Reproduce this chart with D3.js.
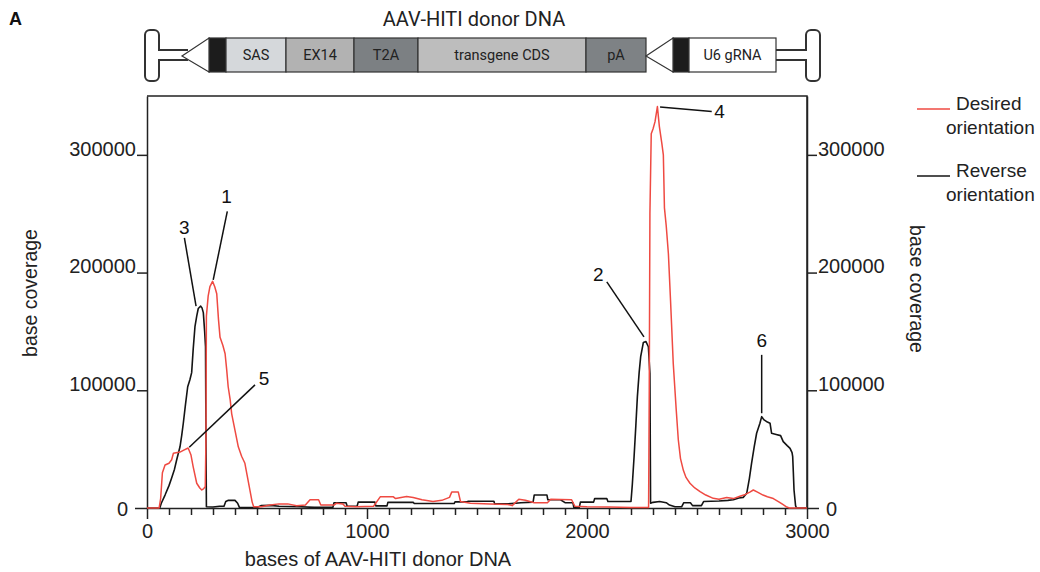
<!DOCTYPE html>
<html><head><meta charset="utf-8">
<script src="https://cdn.jsdelivr.net/npm/d3@7"></script>
<style>body{margin:0;background:#fff}svg{display:block}</style>
</head><body><svg id="c" width="1040" height="572"></svg>
<script>
// ---------------- DATA ----------------
const seriesNames = ["Desired orientation", "Reverse orientation"];
const xTickLabels = [0, 1000, 2000, 3000];
const yTickLabels = [0, 100000, 200000, 300000];

// Desired orientation (red): base position / coverage
const desiredPos = [0,55,62,70,82,100,112,120,150,165,187,200,210,226,240,249,258,265,268,270,278,286,298,308,317,325,332,345,355,362,369,378,385,400,415,430,445,455,468,478,485,520,560,600,640,680,720,741,780,790,850,860,890,900,950,1030,1060,1120,1130,1180,1210,1250,1300,1340,1375,1385,1415,1425,1470,1560,1640,1660,1690,1720,1760,1820,1835,1930,1945,2000,2100,2200,2280,2283,2286,2292,2300,2309,2320,2329,2340,2347,2352,2360,2370,2380,2392,2405,2415,2425,2438,2450,2468,2490,2514,2540,2574,2600,2635,2665,2695,2720,2740,2756,2775,2800,2820,2847,2870,2890,2908,2920,3000];
const desiredCov = [0,0,8000,30000,36500,38000,41000,46500,47500,49000,51000,45000,35000,21000,17000,15300,16500,18000,60000,163000,180000,188000,192500,188000,182000,160000,145000,138000,131000,118000,103000,92000,80000,66000,52000,44000,38000,28000,15000,5000,1000,1000,2500,3500,3500,2000,2500,7000,7000,2500,2500,4000,3500,1500,1000,1500,9500,9500,8000,9800,9000,7000,5500,6500,9000,13500,13500,5500,4000,3500,3000,2000,7500,6500,4500,4500,7500,7000,1500,1000,800,500,400,100000,250000,318000,322000,328000,341000,324000,310000,300000,255000,240000,216000,175000,123000,85000,58000,42000,32000,26000,21000,17000,14000,11000,8200,7500,9000,8000,10000,11500,13500,15300,13500,11000,9500,8000,5500,3000,800,0,0];

// Reverse orientation (black)
const reversePos = [0,58,65,82,100,112,125,135,150,158,165,175,185,195,203,210,218,226,233,244,250,256,262,266,268,270,300,330,350,358,370,400,412,420,450,500,518,560,600,700,760,845,850,905,910,955,960,1036,1040,1091,1095,1210,1215,1396,1400,1455,1460,1577,1580,1640,1700,1755,1760,1818,1822,1880,1900,1936,1940,1965,1970,2030,2035,2090,2095,2200,2206,2214,2222,2229,2237,2244,2256,2268,2279,2286,2289,2300,2330,2360,2375,2400,2430,2440,2470,2480,2520,2530,2600,2640,2665,2690,2710,2726,2738,2748,2760,2771,2786,2794,2800,2805,2820,2832,2839,2860,2880,2892,2910,2923,2932,2935,2938,2941,2948,2952,3000];
const reverseCov = [0,0,4000,11000,19000,25500,33000,41000,52000,62000,72000,88000,103000,109000,115000,135000,154000,163000,169500,171500,170000,166000,150000,137000,60000,1000,800,1500,1500,5500,6500,6500,4000,500,300,500,2000,2200,1500,1000,500,500,4500,4500,1500,1500,5000,5000,1800,1800,4800,4800,3800,3800,5200,5200,5700,5700,3500,3500,4500,5000,11000,11000,7000,7000,4500,4500,500,500,5000,5000,8000,8000,5500,5500,20000,43600,70000,94600,115000,128600,140500,141400,137000,114500,4000,4800,5500,4500,2500,1000,1000,4500,4500,2000,2000,5500,6000,6500,7000,8500,9000,12500,25000,38000,52000,63500,72000,77600,76000,74800,73000,72000,63500,62500,61500,56400,53000,50700,47000,43600,30000,15300,2000,0,0];

// Peak annotations: label, anchor (pos, cov), leader end (pos, cov), label centre (pos, cov)
const peakLabels   = ["1","2","3","4","5","6"];
const peakAnchorX  = [301, 2259, 223, 2332, 192, 2794];
const peakAnchorY  = [193800, 145400, 171400, 340600, 51600, 80500];
const peakLeaderX  = [365, 2090, 170, 2567, 491, 2794];
const peakLeaderY  = [252000, 192100, 229500, 336900, 104600, 130100];
const peakTextX    = [362, 2051, 170, 2602, 532, 2794];
const peakTextY    = [264500, 198600, 238500, 336900, 110300, 142800];

// Donor construct diagram
const diagramTitle = "AAV-HITI donor DNA";
const segmentLabels = ["", "SAS", "EX14", "T2A", "transgene CDS", "pA", "", "", "U6 gRNA"];

// ---------------- LAYOUT / STYLE ----------------
const svg = d3.select("#c");
const FONT = "'Liberation Sans', Arial, sans-serif";
const RED = "#ef4a42", BLK = "#141414", AX = "#222";
const x = d3.scaleLinear().domain([0, 3000]).range([147, 807]);
const y = d3.scaleLinear().domain([0, 350000]).range([508, 96]);

svg.append("rect").attr("width",1040).attr("height",572).attr("fill","#fff");

// panel letter
svg.append("text").attr("x",9).attr("y",25).attr("font-family",FONT).attr("font-weight","bold")
  .attr("font-size",18).attr("fill","#111").text("A");

// ---- diagram ----
const dg = svg.append("g");
const segEdges = [209, 226, 286, 354, 418, 586, 646, 673, 689, 776];
const segFills = ["#1c1c1c","#d5d8db","#b2b2b2","#7c8083","#bdbdbd","#7e8285",null,"#1c1c1c","#ffffff"];
const barTop = 38, barBot = 72, barMid = 55;
dg.append("text").attr("x",474).attr("y",26).attr("text-anchor","middle")
  .attr("font-family","Roboto, sans-serif").attr("font-size",20).attr("fill","#222").text(diagramTitle);
// hairpins
const hp = (dir, xs) => {
  const [s, i, o] = xs; const r = 5;
  const p = d3.path();
  p.moveTo(s, barMid-5); p.lineTo(i, barMid-5); p.lineTo(i, 35);
  p.arcTo(i, 30, i - dir*r, 30, r); p.lineTo(o + dir*r, 30);
  p.arcTo(o, 30, o, 35, r); p.lineTo(o, 76);
  p.arcTo(o, 81, o + dir*r, 81, r); p.lineTo(i - dir*r, 81);
  p.arcTo(i, 81, i, 76, r); p.lineTo(i, barMid+5); p.lineTo(s, barMid+5);
  return p.toString();
};
dg.append("path").attr("d", hp(1, [188, 159, 145])).attr("fill","#fff").attr("stroke","#333").attr("stroke-width",2);
dg.append("path").attr("d", hp(-1, [770, 806, 820])).attr("fill","#fff").attr("stroke","#333").attr("stroke-width",2);
// segments
segFills.forEach((f, k) => {
  if (!f) return;
  dg.append("rect").attr("x", segEdges[k]).attr("y", barTop)
    .attr("width", segEdges[k+1]-segEdges[k]).attr("height", barBot-barTop)
    .attr("fill", f).attr("stroke","#333").attr("stroke-width",1.2);
});
// triangles (ITR arrows)
dg.append("path").attr("d", `M209,${barTop}L209,${barBot}L182,${barMid+1}Z`).attr("fill","#fff").attr("stroke","#333").attr("stroke-width",1.2);
dg.append("path").attr("d", `M673,${barTop}L673,${barBot}L646,${barMid+1}Z`).attr("fill","#fff").attr("stroke","#333").attr("stroke-width",1.2);
segmentLabels.forEach((t, k) => {
  if (!t) return;
  dg.append("text").attr("x",(segEdges[k]+segEdges[k+1])/2).attr("y",barMid+5)
    .attr("text-anchor","middle").attr("font-family","Roboto, sans-serif").attr("font-size",14.5)
    .attr("fill","#222").text(t);
});

// ---- plot frame ----
svg.append("path").attr("d",`M${x(0)},${y(350000)}H${x(3000)}V${y(0)}`)
  .attr("fill","none").attr("stroke",AX).attr("stroke-width",1.5);

// x axis minor ticks
const minor = d3.range(100, 3000, 100).filter(v => v % 1000 !== 0);
const gxm = svg.append("g").attr("transform",`translate(0,${y(0)})`)
  .call(d3.axisBottom(x).tickValues(minor).tickSize(7).tickFormat(""));
gxm.select(".domain").remove();
const gx = svg.append("g").attr("transform",`translate(0,${y(0)})`)
  .call(d3.axisBottom(x).tickValues(xTickLabels).tickSize(11).tickPadding(5).tickFormat(d3.format("d")).tickSizeOuter(0));
gx.select(".domain").attr("stroke",AX).attr("stroke-width",1.5);
[gxm, gx].forEach(g => g.selectAll(".tick line").attr("stroke",AX).attr("stroke-width",1.5));
gx.selectAll(".tick text").attr("font-family",FONT).attr("font-size",20).attr("fill","#222");

// y axes
function styleY(g, side) {
  g.select(".domain").attr("stroke",AX).attr("stroke-width",1.5);
  g.selectAll(".tick line").attr("stroke",AX).attr("stroke-width",1.5)
    .attr("x2", d => (d === 0 ? 12 : 10) * (side === "left" ? -1 : 1));
  g.selectAll(".tick text").attr("font-family",FONT).attr("font-size",20).attr("fill","#222")
    .attr("dy", d => d === 0 ? "0.35em" : "0.02em")
    .attr("x", d => (side === "left" ? -1 : 1) * (d === 0 ? 19 : 11));
}
const gyl = svg.append("g").attr("transform",`translate(${x(0)},0)`)
  .call(d3.axisLeft(y).tickValues(yTickLabels).tickFormat(d3.format("d")).tickSizeOuter(0));
styleY(gyl, "left");
const gyr = svg.append("g").attr("transform",`translate(${x(3000)},0)`)
  .call(d3.axisRight(y).tickValues(yTickLabels).tickFormat(d3.format("d")).tickSizeOuter(0));
styleY(gyr, "right");

// axis titles
svg.append("text").attr("x",378).attr("y",566).attr("text-anchor","middle")
  .attr("font-family",FONT).attr("font-size",20).attr("fill","#222").text("bases of AAV-HITI donor DNA");
svg.append("text").attr("transform","translate(37,293) rotate(-90)").attr("text-anchor","middle")
  .attr("font-family",FONT).attr("font-size",19.5).attr("fill","#222").text("base coverage");
svg.append("text").attr("transform","translate(910,289) rotate(90)").attr("text-anchor","middle")
  .attr("font-family",FONT).attr("font-size",19.5).attr("fill","#222").text("base coverage");

// ---- lines ----
const line = d3.line().x(d => x(d[0])).y(d => y(d[1]));
const revData = reversePos.map((p, k) => [p, reverseCov[k]]);
const desData = desiredPos.map((p, k) => [p, desiredCov[k]]);
svg.append("path").datum(revData).attr("d", line).attr("fill","none").attr("stroke",BLK).attr("stroke-width",1.6).attr("stroke-linejoin","round");
svg.append("path").datum(desData).attr("d", line).attr("fill","none").attr("stroke",RED).attr("stroke-width",1.5).attr("stroke-linejoin","round");

// ---- peak annotations ----
peakLabels.forEach((lab, k) => {
  svg.append("line").attr("x1", x(peakAnchorX[k])).attr("y1", y(peakAnchorY[k]))
    .attr("x2", x(peakLeaderX[k])).attr("y2", y(peakLeaderY[k]))
    .attr("stroke","#111").attr("stroke-width",1.5);
  svg.append("text").attr("x", x(peakTextX[k])).attr("y", y(peakTextY[k])).attr("dy","0.35em")
    .attr("text-anchor","middle").attr("font-family",FONT).attr("font-size",19).attr("fill","#111").text(lab);
});

// ---- legend ----
const lg = svg.append("g");
const legColors = [RED, BLK];
const legY = [109, 176];
seriesNames.forEach((n, k) => {
  const words = n.split(" ");
  lg.append("line").attr("x1",917).attr("x2",950).attr("y1",legY[k]).attr("y2",legY[k])
    .attr("stroke",legColors[k]).attr("stroke-width",1.5);
  lg.append("text").attr("x",956).attr("y",legY[k]+1).attr("font-family",FONT).attr("font-size",19).attr("fill","#222").text(words[0]);
  lg.append("text").attr("x",946).attr("y",legY[k]+25).attr("font-family",FONT).attr("font-size",19).attr("fill","#222").text(words[1]);
});
</script></body></html>
